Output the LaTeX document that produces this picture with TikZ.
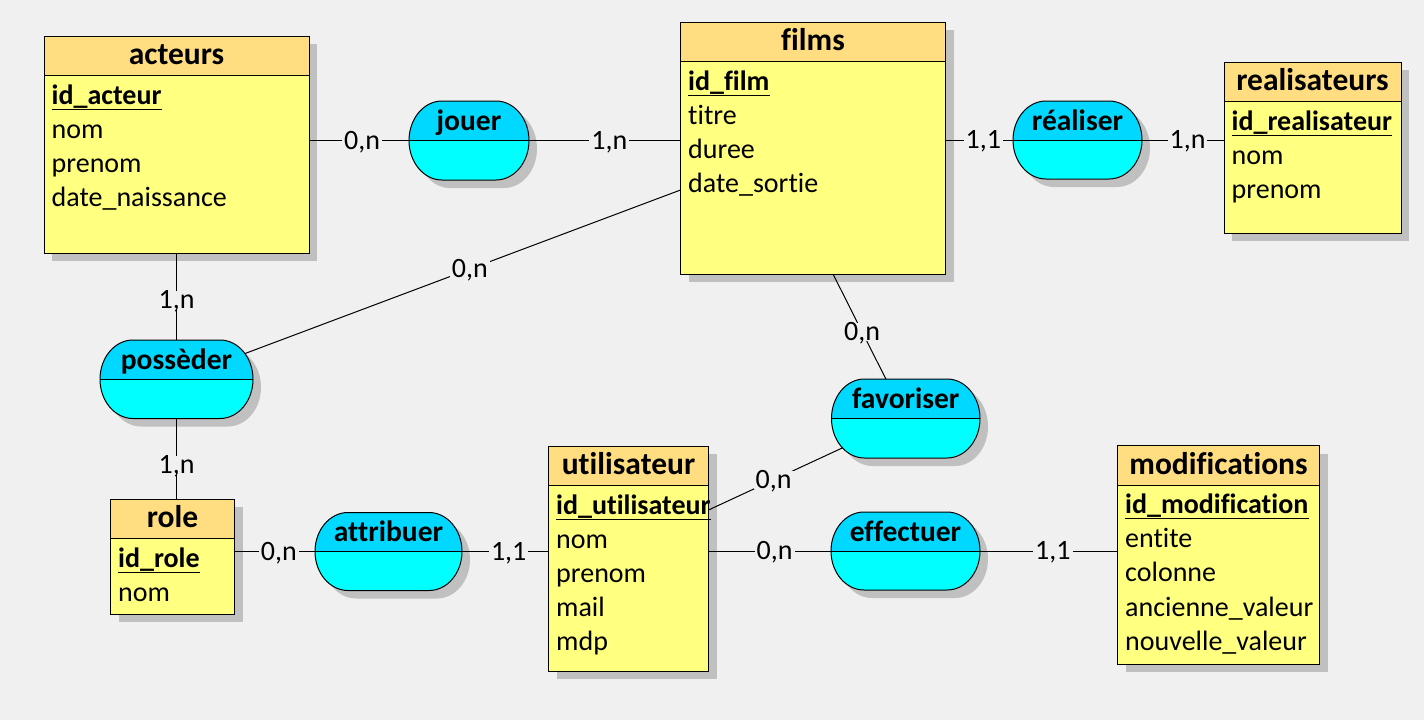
\documentclass[tikz,border=0pt]{standalone}
\usepackage{fontspec}
\setmainfont{Carlito}[Ligatures=CommonOff]
\usetikzlibrary{calc}
\definecolor{bg}{HTML}{F0F0F0}
\definecolor{hdr}{HTML}{FFDD80}
\definecolor{bodyc}{HTML}{FFFF80}
\definecolor{atop}{HTML}{00D8FF}
\definecolor{abot}{HTML}{00FFFF}
\definecolor{shd}{HTML}{C0C0C0}
\pgfdeclarelayer{shadowlayer}
\pgfdeclarelayer{linelayer}
\pgfsetlayers{shadowlayer,linelayer,main}
\tikzset{
  entity/.style={draw=black, fill=bodyc, line width=1pt, anchor=north west, inner sep=0pt, outer sep=0pt,
    path picture={\fill[hdr] (path picture bounding box.north west) rectangle ([yshift=-39.5pt]path picture bounding box.north east);
      \draw[line width=1pt] ([yshift=-39.5pt]path picture bounding box.north west) -- ([yshift=-39.5pt]path picture bounding box.north east);}},
  assocbox/.style={anchor=north west, inner sep=0pt, outer sep=0pt},
  aline/.style={draw=black, line width=1pt},
  etitle/.style={anchor=base, inner sep=0pt, font=\fontsize{31.5}{38}\selectfont\bfseries},
  pkey/.style={anchor=base west, inner sep=0pt, font=\fontsize{28}{34}\selectfont\bfseries},
  attr/.style={anchor=base west, inner sep=0pt, font=\fontsize{28}{34}\selectfont},
  atitle/.style={anchor=base, inner sep=0pt, font=\fontsize{29.5}{36}\selectfont\bfseries},
  card/.style={fill=bg, inner xsep=2pt, inner ysep=0pt, text height=17.7pt, text depth=0pt, font=\fontsize{28}{34}\selectfont},
  conn/.style={draw=black, line width=1pt}
}
\newcommand{\entite}[8]{%
  \node[entity, minimum width=#4pt, minimum height=#5pt] (#1) at (#2,#3) {};
  \begin{pgfonlayer}{shadowlayer}
    \fill[shd] ([shift={(8pt,-8pt)}]#1.north west) rectangle ([shift={(8pt,-8pt)}]#1.south east);
  \end{pgfonlayer}
  \node[etitle] (#1-t) at ($(#1.north)+(0,28.5)$) {#6};
  \node[pkey] (#1-k) at ($(#1.north west)+(7.5,68)$) {#7};
  \draw[line width=1pt] ([yshift=-5pt]#1-k.base west) -- ([yshift=-5pt]#1-k.base east);
  \foreach \a [count=\i] in {#8} \node[attr] (#1-a\i) at ($(#1.north west)+(7.5,68+34.2*\i)$) {\a};
}
% association: name, x, y, w, h, title
\newcommand{\assoc}[6]{%
  \node[assocbox, minimum width=#4pt, minimum height=#5pt] (#1) at (#2,#3) {};
  \coordinate (#1-p1) at ([xshift=33pt]#1.north west);
  \coordinate (#1-p2) at ([xshift=-33pt]#1.north east);
  \coordinate (#1-p3) at ([xshift=33pt]#1.south west);
  \begin{pgfonlayer}{shadowlayer}
    \fill[shd] ([shift={(8pt,-8pt)}]#1-p1) -- ([shift={(8pt,-8pt)}]#1-p2)
      arc[start angle=90, end angle=-90, x radius=33pt, y radius={#5pt/2}]
      -- ([shift={(8pt,-8pt)}]#1-p3)
      arc[start angle=270, end angle=90, x radius=33pt, y radius={#5pt/2}] -- cycle;
  \end{pgfonlayer}
  \begin{scope}
    \clip (#1-p1) -- (#1-p2)
      arc[start angle=90, end angle=-90, x radius=33pt, y radius={#5pt/2}]
      -- (#1-p3)
      arc[start angle=270, end angle=90, x radius=33pt, y radius={#5pt/2}] -- cycle;
    \fill[atop] (#1.north west) rectangle (#1.east);
    \fill[abot] (#1.west) rectangle (#1.south east);
  \end{scope}
  \draw[aline] (#1-p1) -- (#1-p2)
      arc[start angle=90, end angle=-90, x radius=33pt, y radius={#5pt/2}]
      -- (#1-p3)
      arc[start angle=270, end angle=90, x radius=33pt, y radius={#5pt/2}] -- cycle;
  \draw[aline] (#1.west) -- (#1.east);
  \node[atitle] (#1-t) at ($(#1.north)+(0,29)$) {#6};
}
\begin{document}
\begin{tikzpicture}[x=1pt, y=-1pt]
\begin{pgfonlayer}{shadowlayer}
  \fill[bg] (0,0) rectangle (1424,720);
\end{pgfonlayer}
\useasboundingbox (0,0) rectangle (1424,720);

% entities
\entite{acteurs}{44}{36}{265}{217}{acteurs}{id\_acteur}{nom,prenom,date\_naissance}
\entite{films}{680.5}{22}{265}{252}{films}{id\_film}{titre,duree,date\_sortie}
\entite{realisateurs}{1224}{62}{177}{171}{realisateurs}{id\_realisateur}{nom,prenom}
\entite{role}{110.5}{499}{124}{115}{role}{id\_role}{nom}
\entite{utilisateur}{548.5}{446}{160}{225}{utilisateur}{id\_utilisateur}{nom,prenom,mail,mdp}
\entite{modifications}{1117.5}{445.5}{202}{218.5}{modifications}{id\_modification}{entite,colonne,ancienne\_valeur,nouvelle\_valeur}

% associations
\assoc{jouer}{409}{101}{120}{79}{jouer}
\assoc{realiser}{1013}{101}{129}{78}{réaliser}
\assoc{posseder}{100}{340}{153}{78.5}{possèder}
\assoc{favoriser}{831.5}{379}{148.5}{79}{favoriser}
\assoc{attribuer}{315}{512.5}{147}{78}{attribuer}
\assoc{effectuer}{831}{512}{149}{78}{effectuer}

\coordinate (films-p) at ($(films.north west)+(0,168)$);
\coordinate (films-f) at ($(films.south)+(20,0)$);
\coordinate (util-f) at ($(utilisateur.north east)+(0,64)$);

% connectors
\begin{pgfonlayer}{linelayer}
\draw[conn] (acteurs.east |- jouer.west) -- node[card, pos=.53] (c1) {0,n} (jouer.west);
\draw[conn] (jouer.east) -- node[card, pos=.53] (c2) {1,n} (films.west |- jouer.east);
\draw[conn] (films.east |- realiser.west) -- node[card, pos=.56] (c3) {1,1} (realiser.west);
\draw[conn] (realiser.east) -- node[card, pos=.555] (c4) {1,n} (realisateurs.west |- realiser.east);
\draw[conn] (acteurs.south) -- node[card, pos=.54] (c5) {1,n} (posseder.north);
\draw[conn] (posseder.center) -- node[card, pos=.582] (c6) {0,n} (films-p);
\draw[conn] (posseder.south) -- node[card, pos=.57] (c7) {1,n} (posseder.south |- role.north);
\draw[conn] (films-f) -- node[card, pos=.40] (c8) {0,n} (favoriser.center);
\draw[conn] (favoriser.center) -- node[card, pos=.67] (c9) {0,n} (util-f);
\draw[conn] (role.east |- attribuer.west) -- node[card, pos=.55] (c10) {0,n} (attribuer.west);
\draw[conn] (attribuer.east) -- node[card, pos=.54] (c11) {1,1} (utilisateur.west |- attribuer.east);
\draw[conn] (utilisateur.east |- effectuer.west) -- node[card, pos=.54] (c12) {0,n} (effectuer.west);
\draw[conn] (effectuer.east) -- node[card, pos=.53] (c13) {1,1} (modifications.west |- effectuer.east);
\end{pgfonlayer}
\end{tikzpicture}
\end{document}
